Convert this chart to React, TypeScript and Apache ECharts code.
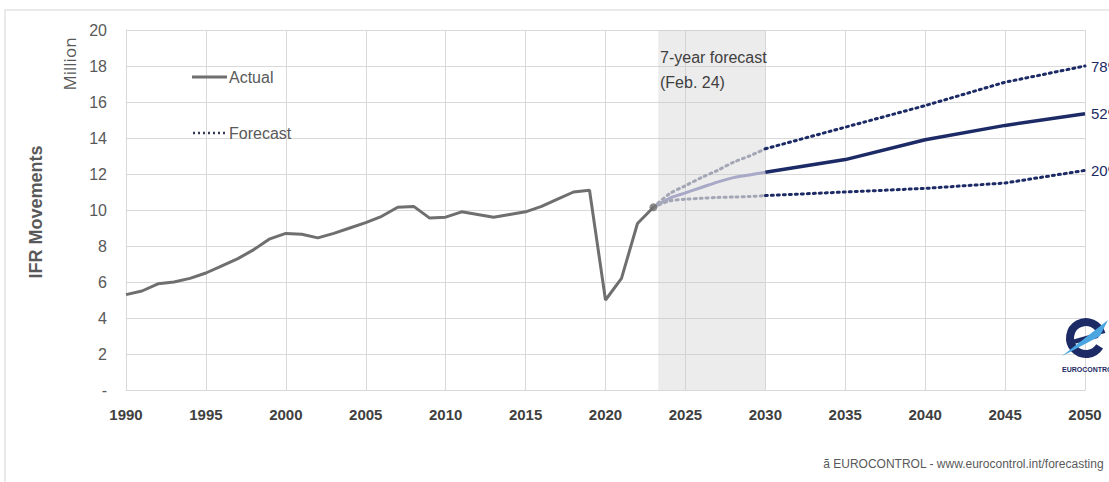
import React, { useEffect, useRef } from "react";
import * as echarts from "echarts";

const actualYears = [1990,1991,1992,1993,1994,1995,1996,1997,1998,1999,2000,2001,2002,2003,2004,2005,2006,2007,2008,2009,2010,2011,2012,2013,2014,2015,2016,2017,2018,2019,2020,2021,2022,2023];
const actualValues = [5.3,5.5,5.9,6.0,6.2,6.5,6.9,7.3,7.8,8.4,8.7,8.65,8.45,8.7,9.0,9.3,9.65,10.15,10.2,9.55,9.6,9.9,9.75,9.6,9.75,9.9,10.2,10.6,11.0,11.1,5.0,6.2,9.25,10.15];

const nearYears = [2023,2024,2025,2026,2027,2028,2029,2030];
const nearBase = [10.15,10.65,10.95,11.25,11.55,11.8,11.95,12.1];
const nearHigh = [10.15,10.9,11.35,11.8,12.2,12.65,13.0,13.4];
const nearLow = [10.15,10.5,10.6,10.65,10.7,10.72,10.75,10.8];

const longYears = [2030,2035,2040,2045,2050];
const longBase = [12.1,12.8,13.9,14.7,15.35];
const longHigh = [13.4,14.6,15.8,17.1,18.0];
const longLow = [10.8,11.0,11.2,11.5,12.2];

const scenarioLabels = ["78%", "52%", "20%"];
const xTicks = [1990,1995,2000,2005,2010,2015,2020,2025,2030,2035,2040,2045,2050];
const shadeRange = [2023.3, 2030];

const NAVY = "#1c2a66";
const LIGHT = "#a7a9c6";
const LIGHT_DOT = "#a3a6b4";
const GRAY = "#6f6f6f";
const TXT = "#595959";
const FONT = "Liberation Sans, Arial, sans-serif";

const pairs = (xs: number[], ys: number[]) => xs.map((x, i) => [x, ys[i]]);

export default function App() {
  const ref = useRef<HTMLDivElement>(null);
  useEffect(() => {
    document.body.style.margin = "0";
    const chart = echarts.init(ref.current!, undefined, { renderer: "svg" });
    const dotted = [2, 4];
    const endLabel = (txt: string) => ({
      show: true,
      formatter: txt,
      color: NAVY,
      fontSize: 15,
      fontFamily: FONT,
      distance: 6,
    });
    chart.setOption({
      animation: false,
      backgroundColor: "#ffffff",
      grid: { left: 126, right: 24, top: 30, bottom: 92 },
      xAxis: {
        type: "value",
        min: 1990,
        max: 2050,
        interval: 5,
        axisLine: { show: true, lineStyle: { color: "#d9d9d9" } },
        axisTick: { show: false },
        splitLine: { show: true, lineStyle: { color: "#d9d9d9", width: 1 } },
        axisLabel: {
          color: "#404040",
          fontWeight: "bold",
          fontSize: 15,
          fontFamily: FONT,
          margin: 17,
          formatter: (v: number) => (xTicks.includes(v) ? String(v) : ""),
        },
      },
      yAxis: {
        type: "value",
        min: 0,
        max: 20,
        interval: 2,
        axisLine: { show: true, lineStyle: { color: "#d9d9d9" } },
        axisTick: { show: false },
        splitLine: { show: true, lineStyle: { color: "#d9d9d9", width: 1 } },
        axisLabel: {
          color: TXT,
          fontSize: 16,
          fontFamily: FONT,
          margin: 19,
          formatter: (v: number) => (v === 0 ? "-" : String(v)),
        },
      },
      series: [
        {
          type: "line",
          name: "Actual",
          data: pairs(actualYears, actualValues),
          showSymbol: false,
          lineStyle: { color: GRAY, width: 3 },
          itemStyle: { color: GRAY },
          z: 5,
          markArea: {
            silent: true,
            itemStyle: { color: "rgba(200,200,200,0.35)" },
            data: [[{ xAxis: shadeRange[0] }, { xAxis: shadeRange[1] }]],
          },
        },
        {
          type: "scatter",
          data: [[actualYears[actualYears.length - 1], actualValues[actualValues.length - 1]]],
          symbolSize: 8,
          itemStyle: { color: GRAY },
          z: 6,
        },
        {
          type: "line",
          data: pairs(nearYears, nearBase),
          showSymbol: false,
          smooth: 0.3,
          lineStyle: { color: LIGHT, width: 3 },
          z: 4,
        },
        {
          type: "line",
          data: pairs(nearYears, nearHigh),
          showSymbol: false,
          smooth: 0.3,
          lineStyle: { color: LIGHT_DOT, width: 3, type: dotted, cap: "round" },
          z: 4,
        },
        {
          type: "line",
          data: pairs(nearYears, nearLow),
          showSymbol: false,
          smooth: 0.3,
          lineStyle: { color: LIGHT_DOT, width: 3, type: dotted, cap: "round" },
          z: 4,
        },
        {
          type: "line",
          data: pairs(longYears, longHigh),
          showSymbol: false,
          lineStyle: { color: NAVY, width: 3, type: dotted, cap: "round" },
          endLabel: endLabel(scenarioLabels[0]),
          z: 4,
        },
        {
          type: "line",
          data: pairs(longYears, longBase),
          showSymbol: false,
          lineStyle: { color: NAVY, width: 3.5 },
          endLabel: endLabel(scenarioLabels[1]),
          z: 4,
        },
        {
          type: "line",
          data: pairs(longYears, longLow),
          showSymbol: false,
          lineStyle: { color: NAVY, width: 3, type: dotted, cap: "round" },
          endLabel: endLabel(scenarioLabels[2]),
          z: 4,
        },
      ],
      graphic: [
        {
          type: "rect",
          shape: { x: 5, y: 10, width: 1200, height: 600 },
          style: { fill: "none", stroke: "#e3e3e3", lineWidth: 1.5 },
          silent: true,
          z: -10,
        },
        {
          type: "text",
          x: 36,
          y: 212,
          rotation: Math.PI / 2,
          z: 100,
          style: {
            text: "IFR Movements",
            fill: TXT,
            font: `bold 18px ${FONT}`,
            align: "center",
            verticalAlign: "middle",
          },
        },
        {
          type: "text",
          x: 69,
          y: 64,
          rotation: Math.PI / 2,
          z: 100,
          style: {
            text: "Million",
            fill: TXT,
            font: `17px "Open Sans", sans-serif`,
            align: "center",
            verticalAlign: "middle",
          },
        },
        {
          type: "line",
          z: 100,
          shape: { x1: 192, y1: 77, x2: 227, y2: 77 },
          style: { stroke: GRAY, lineWidth: 3 },
        },
        {
          type: "text",
          x: 229,
          y: 77,
          z: 100,
          style: { text: "Actual", fill: TXT, font: `16px ${FONT}`, verticalAlign: "middle" },
        },
        {
          type: "line",
          z: 100,
          shape: { x1: 193, y1: 133, x2: 225, y2: 133 },
          style: { stroke: "#333a55", lineWidth: 2.5, lineDash: [2, 3] },
        },
        {
          type: "text",
          x: 229,
          y: 133,
          z: 100,
          style: { text: "Forecast", fill: TXT, font: `16px ${FONT}`, verticalAlign: "middle" },
        },
        {
          type: "text",
          x: 660,
          y: 57,
          z: 100,
          style: { text: "7-year forecast", fill: "#404040", font: `16px ${FONT}`, verticalAlign: "middle" },
        },
        {
          type: "text",
          x: 660,
          y: 82,
          z: 100,
          style: { text: "(Feb. 24)", fill: "#404040", font: `16px ${FONT}`, verticalAlign: "middle" },
        },
        {
          type: "text",
          right: 5,
          top: 458,
          z: 100,
          style: {
            text: "ã EUROCONTROL - www.eurocontrol.int/forecasting",
            fill: TXT,
            font: `12px ${FONT}`,
          },
        },
        {
          type: "arc",
          shape: { cx: 1086, cy: 338, r: 16, startAngle: 0.55, endAngle: Math.PI * 2 - 0.25, clockwise: true },
          style: { stroke: NAVY, lineWidth: 8, fill: "none" },
          z: 120,
        },
        {
          type: "polygon",
          shape: { points: [[1068, 341], [1100, 332], [1098, 338], [1070, 345]] },
          style: { fill: NAVY },
          z: 121,
        },
        {
          type: "polygon",
          shape: { points: [[1062, 356], [1108, 320], [1100, 336], [1070, 352]] },
          style: { fill: "#4aa5e0" },
          z: 122,
        },
        {
          type: "text",
          x: 1062,
          y: 366,
          style: { text: "EUROCONTROL", fill: NAVY, font: `bold 7px ${FONT}` },
          z: 122,
        },
      ],
    });
    return () => chart.dispose();
  }, []);
  return <div ref={ref} style={{ width: 1109, height: 482, position: "absolute", left: 0, top: 0 }} />;
}
